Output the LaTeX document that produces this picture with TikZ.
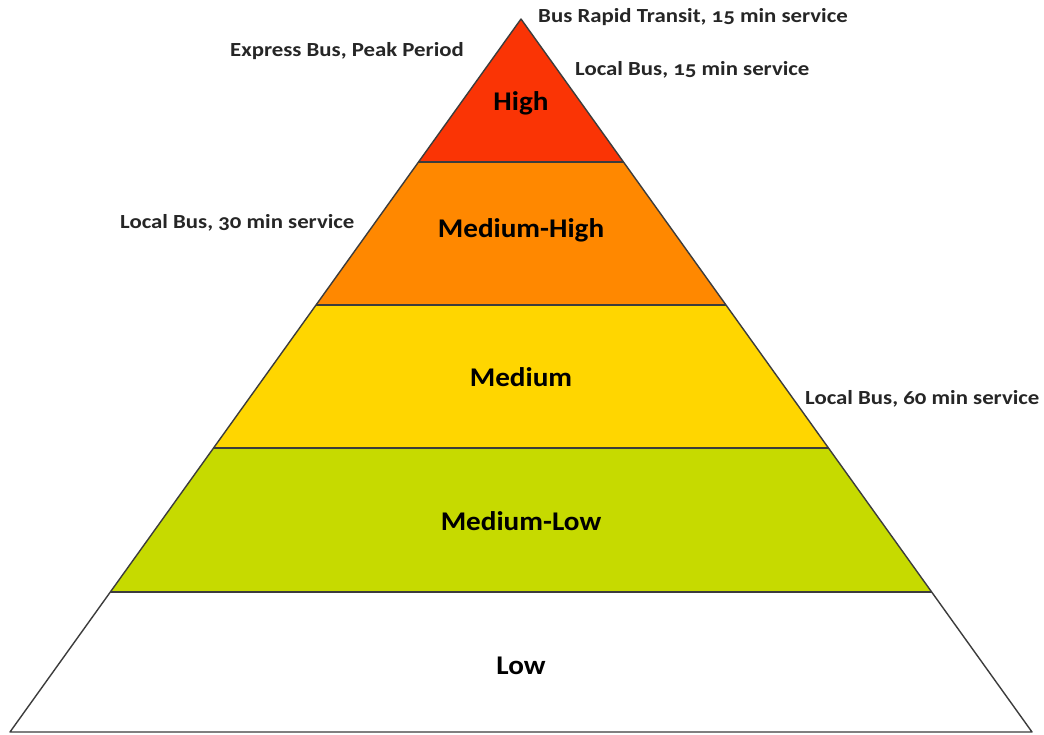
\documentclass[tikz,border=0pt]{standalone}
\usepackage{fontspec}
\setmainfont{Carlito}[Numbers=OldStyle]
\usetikzlibrary{calc}
\definecolor{cHigh}{RGB}{250,52,5}
\definecolor{cMedHigh}{RGB}{255,136,0}
\definecolor{cMed}{RGB}{255,214,0}
\definecolor{cMedLow}{RGB}{198,218,0}
\definecolor{edgegray}{RGB}{60,60,60}
\tikzset{
  band/.style={draw=edgegray, line width=1.4pt, line join=round},
  level/.style={font=\bfseries\fontsize{27}{30}\selectfont, text=black, inner sep=0pt, xscale=1.08},
  svc/.style={font=\bfseries\fontsize{20}{24}\selectfont, text=black!85, inner sep=0pt, anchor=west, xscale=1.14},
}
\begin{document}
\begin{tikzpicture}[x=1pt,y=-1pt]
\useasboundingbox (0,0) rectangle (1044,734);
\fill[white] (0,0) rectangle (1044,734);
\coordinate (A) at (521,19);
\coordinate (BL) at (10,732);
\coordinate (BR) at (1032,732);
% boundaries along edges (fractions of height 713)
\coordinate (L1) at ($(A)!0.2006!(BL)$); \coordinate (R1) at ($(A)!0.2006!(BR)$);
\coordinate (L2) at ($(A)!0.4011!(BL)$); \coordinate (R2) at ($(A)!0.4011!(BR)$);
\coordinate (L3) at ($(A)!0.6017!(BL)$); \coordinate (R3) at ($(A)!0.6017!(BR)$);
\coordinate (L4) at ($(A)!0.8036!(BL)$); \coordinate (R4) at ($(A)!0.8036!(BR)$);
\fill[white] (L4) -- (R4) -- (BR) -- (BL) -- cycle;
\fill[cMedLow] (L3) -- (R3) -- (R4) -- (L4) -- cycle;
\fill[cMed] (L2) -- (R2) -- (R3) -- (L3) -- cycle;
\fill[cMedHigh] (L1) -- (R1) -- (R2) -- (L2) -- cycle;
\fill[cHigh] (A) -- (R1) -- (L1) -- cycle;
\draw[band] (A) -- (BR) -- (BL) -- cycle;
\draw[band] (L1) -- (R1);
\draw[band] (L2) -- (R2);
\draw[band] (L3) -- (R3);
\draw[band] (L4) -- (R4);
% level labels
\node[level] (high) at (521,103) {High};
\node[level] (medhigh) at (521,230) {Medium-High};
\node[level] (med) at (521,377) {Medium};
\node[level] (medlow) at (521,521) {Medium-Low};
\node[level] (low) at (521,666) {Low};
% service labels
\node[svc] (brt) at (538,17) {Bus Rapid Transit, 15 min service};
\node[svc] (exp) at (230,51) {Express Bus, Peak Period};
\node[svc] (lb15) at (575,70) {Local Bus, 15 min service};
\node[svc] (lb30) at (120,223) {Local Bus, 30 min service};
\node[svc] (lb60) at (805,399) {Local Bus, 60 min service};
\end{tikzpicture}
\end{document}
